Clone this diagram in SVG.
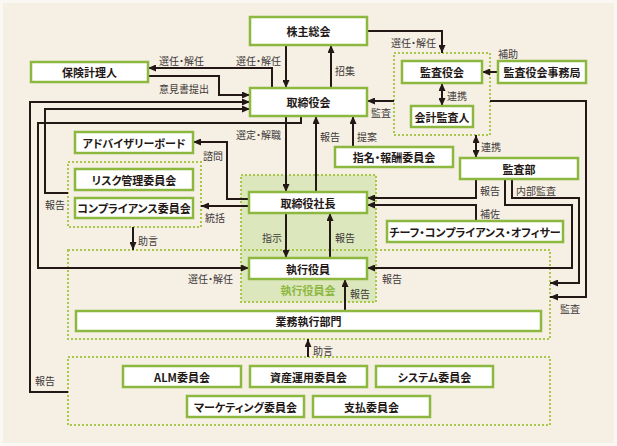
<svg xmlns="http://www.w3.org/2000/svg" width="617" height="446" viewBox="0 0 617 446">
<style>
text{font-feature-settings:"palt"}
.n rect{fill:#fff;stroke:#8db83f;stroke-width:2.5}
.n text{font-family:"Noto Sans CJK JP","Noto Sans",sans-serif;font-size:11px;font-weight:700;fill:#231815;text-anchor:middle;dominant-baseline:central}
.g{fill:none;stroke:#a9c84b;stroke-width:2;stroke-dasharray:2 2}
.c path{fill:none;stroke:#231815;stroke-width:2}
.l{font-family:"Noto Sans CJK JP","Noto Sans",sans-serif;font-size:10px;fill:#3e3a39;dominant-baseline:central}
</style>
<defs>
<marker id="a" viewBox="0 0 8 7" refX="8" refY="3.5" markerWidth="8" markerHeight="7" markerUnits="userSpaceOnUse" orient="auto-start-reverse"><path d="M0,0 L8,3.5 L0,7 z" fill="#231815"/></marker>
</defs>
<rect width="617" height="446" fill="#fbf8f3"/>
<rect x="3" y="3" width="611" height="440" fill="#f6efe4"/>

<g id="groups">
<rect x="241" y="175" width="135" height="127" fill="#dce7bd" stroke="#a9c84b" stroke-width="2" stroke-dasharray="2 2"/>
<text x="308" y="290" font-family="'Noto Sans CJK JP',sans-serif" font-size="11" font-weight="700" fill="#8db83f" text-anchor="middle" dominant-baseline="central">執行役員会</text>
<rect class="g" x="394" y="53" width="96" height="82"/>
<rect class="g" x="68" y="162" width="133" height="65"/>
<rect class="g" x="68" y="250" width="482" height="89"/>
<rect class="g" x="68" y="357" width="482" height="68"/>
</g>

<g id="connectors" class="c">
<path d="M286,45 V88" marker-end="url(#a)"/>
<path d="M272,88 V68 H148" marker-end="url(#a)"/>
<path d="M148,76 H219 V95 H250" marker-end="url(#a)"/>
<path d="M331,88 V45" marker-end="url(#a)"/>
<path d="M367,31 H442 V53" marker-end="url(#a)"/>
<path d="M498,72 H482" marker-end="url(#a)"/>
<path d="M442,83 V106" marker-start="url(#a)" marker-end="url(#a)"/>
<path d="M394,101 H367" marker-end="url(#a)"/>
<path d="M490,101 H586 V297 H550" marker-end="url(#a)"/>
<path d="M476,135 V158" marker-start="url(#a)" marker-end="url(#a)"/>
<path d="M286,116 V192" marker-end="url(#a)"/>
<path d="M316,192 V116" marker-end="url(#a)"/>
<path d="M353,147 V116" marker-end="url(#a)"/>
<path d="M301,116 V123 H38 V268 H249" marker-end="url(#a)"/>
<path d="M68,392 H30 V102 H250" marker-end="url(#a)"/>
<path d="M68,193 H45 V109 H250" marker-end="url(#a)"/>
<path d="M249,199 H227 V142 H193" marker-end="url(#a)"/>
<path d="M249,206 H201" marker-end="url(#a)"/>
<path d="M133,227 V250" marker-end="url(#a)"/>
<path d="M286,213 V258" marker-end="url(#a)"/>
<path d="M330,258 V213" marker-end="url(#a)"/>
<path d="M345,311 V279" marker-end="url(#a)"/>
<path d="M308,357 V339" marker-end="url(#a)"/>
<path d="M476,179 V198 H367" marker-end="url(#a)"/>
<path d="M476,221 V205 H367" marker-end="url(#a)"/>
<path d="M505,179 V205 H572 V268 H367" marker-end="url(#a)"/>
<path d="M512,179 V198 H579 V283 H550" marker-end="url(#a)"/>
</g>

<g id="labels">
<text class="l" x="236" y="60">選任・解任</text>
<text class="l" x="159" y="60">選任・解任</text>
<text class="l" x="159" y="88">意見書提出</text>
<text class="l" x="335" y="70">招集</text>
<text class="l" x="391" y="42">選任・解任</text>
<text class="l" x="498" y="53">補助</text>
<text class="l" x="447" y="95">連携</text>
<text class="l" x="371" y="112">監査</text>
<text class="l" x="560" y="308">監査</text>
<text class="l" x="481" y="146">連携</text>
<text class="l" x="236" y="134">選定・解職</text>
<text class="l" x="320" y="136">報告</text>
<text class="l" x="357" y="136">提案</text>
<text class="l" x="188" y="278">選任・解任</text>
<text class="l" x="35" y="380">報告</text>
<text class="l" x="45" y="204">報告</text>
<text class="l" x="203" y="155">諮問</text>
<text class="l" x="205" y="217">統括</text>
<text class="l" x="138" y="240">助言</text>
<text class="l" x="262" y="237">指示</text>
<text class="l" x="335" y="237">報告</text>
<text class="l" x="350" y="293">報告</text>
<text class="l" x="313" y="350">助言</text>
<text class="l" x="480" y="190">報告</text>
<text class="l" x="480" y="213">補佐</text>
<text class="l" x="382" y="278">報告</text>
<text class="l" x="516" y="190">内部監査</text>
</g>

<g id="n1" class="n"><rect x="250" y="17" width="117" height="28"/><text x="308.5" y="31">株主総会</text></g>
<g id="n2" class="n"><rect x="31" y="62" width="117" height="20"/><text x="89.5" y="72">保険計理人</text></g>
<g id="n3" class="n"><rect x="250" y="88" width="117" height="28"/><text x="308.5" y="102">取締役会</text></g>
<g id="n4" class="n"><rect x="402" y="61" width="80" height="22"/><text x="442" y="72">監査役会</text></g>
<g id="n5" class="n"><rect x="411" y="106" width="62" height="21"/><text x="442" y="116.5">会計監査人</text></g>
<g id="n6" class="n"><rect x="498" y="61" width="88" height="22"/><text x="542" y="72">監査役会事務局</text></g>
<g id="n7" class="n"><rect x="75" y="132" width="118" height="21"/><text x="134" y="142.5">アドバイザリーボード</text></g>
<g id="n8" class="n"><rect x="75" y="169" width="118" height="21"/><text x="134" y="179.5">リスク管理委員会</text></g>
<g id="n9" class="n"><rect x="75" y="198" width="118" height="20"/><text x="134" y="208">コンプライアンス委員会</text></g>
<g id="n10" class="n"><rect x="335" y="147" width="118" height="20"/><text x="394" y="157">指名・報酬委員会</text></g>
<g id="n11" class="n"><rect x="460" y="158" width="118" height="21"/><text x="519" y="168.5">監査部</text></g>
<g id="n12" class="n"><rect x="249" y="192" width="118" height="21"/><text x="308" y="202.5">取締役社長</text></g>
<g id="n13" class="n"><rect x="387" y="221" width="176" height="21"/><text x="475" y="231.5">チーフ・コンプライアンス・オフィサー</text></g>
<g id="n14" class="n"><rect x="249" y="258" width="118" height="21"/><text x="308" y="268.5">執行役員</text></g>
<g id="n15" class="n"><rect x="76" y="311" width="465" height="20"/><text x="308.5" y="321">業務執行部門</text></g>
<g id="n16" class="n"><rect x="123" y="366" width="118" height="21"/><text x="182" y="376.5">ALM委員会</text></g>
<g id="n17" class="n"><rect x="250" y="366" width="117" height="21"/><text x="308.5" y="376.5">資産運用委員会</text></g>
<g id="n18" class="n"><rect x="376" y="366" width="117" height="21"/><text x="434.5" y="376.5">システム委員会</text></g>
<g id="n19" class="n"><rect x="187" y="396" width="117" height="21"/><text x="245.5" y="406.5">マーケティング委員会</text></g>
<g id="n20" class="n"><rect x="313" y="396" width="117" height="21"/><text x="371.5" y="406.5">支払委員会</text></g>
</svg>
